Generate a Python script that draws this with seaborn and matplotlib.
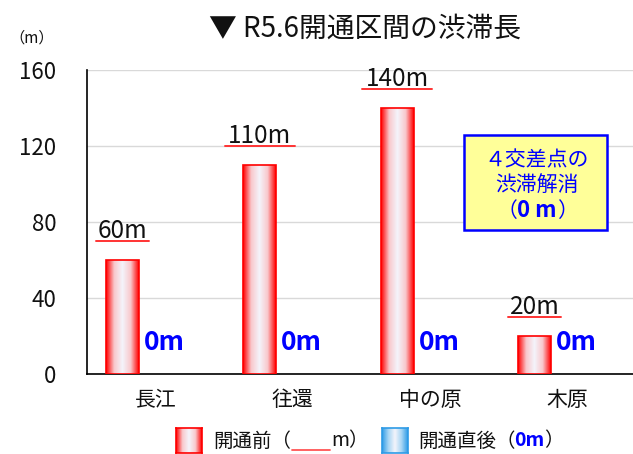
import matplotlib
matplotlib.use("Agg")
import matplotlib.pyplot as plt
import numpy as np
import pandas as pd
import seaborn as sns
from matplotlib.colors import LinearSegmentedColormap
from matplotlib.patches import Rectangle

# data
areas = ["長江", "往還", "中の原", "木原"]
before = [60, 110, 140, 20]   # 開通前
after = [0, 0, 0, 0]          # 開通直後
yticks = [0, 40, 80, 120, 160]

sns.set_theme(style="white")
plt.rcParams["font.family"] = ["Noto Sans CJK JP", "DejaVu Sans"]

df = pd.DataFrame({
    "area": areas * 2,
    "len": before + after,
    "when": ["開通前"] * len(areas) + ["開通直後"] * len(areas),
})

red_cm = LinearSegmentedColormap.from_list("r", ["#ff0000", "#f9c8cc", "#f4f4fb", "#f9c8cc", "#ff0000"])
blue_cm = LinearSegmentedColormap.from_list("b", ["#2e9be6", "#a8d6f5", "#f4f4fb", "#a8d6f5", "#2e9be6"])
grad = np.linspace(0, 1, 256).reshape(1, -1)

fig = plt.figure(figsize=(6.33, 4.54), dpi=100)
ax = fig.add_axes([87 / 633, 1 - 374 / 454, 549 / 633, 304 / 454])

sns.barplot(data=df, x="area", y="len", hue="when", palette=["#ff0000", "#2e9be6"],
            width=0.96, gap=0.5, legend=False, ax=ax, zorder=3)

for p in ax.patches:
    if p.get_height() <= 0:
        p.set_visible(False)
        continue
    x0, w, h = p.get_x(), p.get_width(), p.get_height()
    im = ax.imshow(grad, cmap=red_cm, extent=(x0, x0 + w, 0, h), aspect="auto", zorder=3)
    im.set_clip_path(p)
    p.set_facecolor("none")
    p.set_edgecolor("#ff0000")
    p.set_linewidth(1.2)
    p.set_zorder(4)
    cx = x0 + w / 2
    lab = f"{h:.0f}m"
    ax.text(cx, h + 11.5, lab, ha="center", va="baseline", fontsize=17.5, color="#111111")
    half = 0.064 * len(lab)
    ax.plot([cx - half, cx + half], [h + 10, h + 10], color="#ff3333", lw=1.4, zorder=5)

for i, v in enumerate(after):
    ax.text(i + 0.065, v + 12.6, f"{v}m", ha="center", va="baseline", fontsize=19,
            fontweight="bold", color="#0000ff", zorder=6)

ax.set_xlim(-0.5, 3.5)
ax.set_ylim(0, 160)
ax.set_yticks(yticks)
ax.yaxis.grid(True, color="#d9d9d9", lw=1)
ax.set_axisbelow(True)
ax.set_xlabel("")
ax.set_ylabel("")
for s in ["top", "right"]:
    ax.spines[s].set_visible(False)
for s in ["left", "bottom"]:
    ax.spines[s].set_color("black")
    ax.spines[s].set_linewidth(1.2)
ax.tick_params(axis="y", length=0, pad=22, labelsize=16, labelcolor="#111111")
ax.tick_params(axis="x", which="major", length=0, pad=11, labelsize=15, labelcolor="#111111")
ax.set_xticks([0.5, 1.5, 2.5], minor=True)
ax.tick_params(axis="x", which="minor", length=8, width=1.2, color="black", direction="out")

# title and unit
fig.text(365 / 633, 1 - 29 / 454, "▼ R5.6開通区間の渋滞長", ha="center", va="center", fontsize=20, color="#111111")
fig.text(32 / 633, 1 - 38 / 454, "（m）", ha="center", va="center", fontsize=11, color="#111111")

# callout box
fig.patches.append(Rectangle((464 / 633, 1 - 230 / 454), 143 / 633, 95 / 454, transform=fig.transFigure,
                             facecolor="#ffff99", edgecolor="#0000ff", lw=1.8, zorder=5))
bx = 537 / 633
fig.text(bx, 1 - 160 / 454, "４交差点の", ha="center", va="center", fontsize=15, color="#0000ff", zorder=6)
fig.text(bx, 1 - 185 / 454, "渋滞解消", ha="center", va="center", fontsize=15, color="#0000ff", zorder=6)
fig.text(bx, 1 - 211 / 454, "0 m", ha="center", va="center", fontsize=16, fontweight="bold", color="#0000ff", zorder=6)
fig.text(bx - 20 / 633, 1 - 211 / 454, "（", ha="right", va="center", fontsize=15, color="#0000ff", zorder=6)
fig.text(bx + 20 / 633, 1 - 211 / 454, "）", ha="left", va="center", fontsize=15, color="#0000ff", zorder=6)

# legend
ly = 1 - 441 / 454
for x0, cm in [(176, red_cm), (382, blue_cm)]:
    sw = fig.add_axes([x0 / 633, 1 - 453 / 454, 26 / 633, 25 / 454])
    sw.imshow(grad, cmap=cm, aspect="auto")
    sw.set_xticks([])
    sw.set_yticks([])
    for s in sw.spines.values():
        s.set_color("#ff0000" if cm is red_cm else "#2e9be6")
        s.set_linewidth(1.2)
fig.text(213 / 633, ly, "開通前（", ha="left", va="center", fontsize=14, color="#111111")
fig.lines.append(plt.Line2D([292 / 633, 330 / 633], [1 - 450 / 454, 1 - 450 / 454],
                            transform=fig.transFigure, color="#ff5555", lw=1.3))
fig.text(331 / 633, ly, "m）", ha="left", va="center", fontsize=14, color="#111111")
fig.text(418 / 633, ly, "開通直後（", ha="left", va="center", fontsize=14, color="#111111")
fig.text(514 / 633, ly, "0m", ha="left", va="center", fontsize=14, fontweight="bold", color="#0000ff")
fig.text(544 / 633, ly, "）", ha="left", va="center", fontsize=14, color="#111111")

fig.savefig("out.png", dpi=100)
